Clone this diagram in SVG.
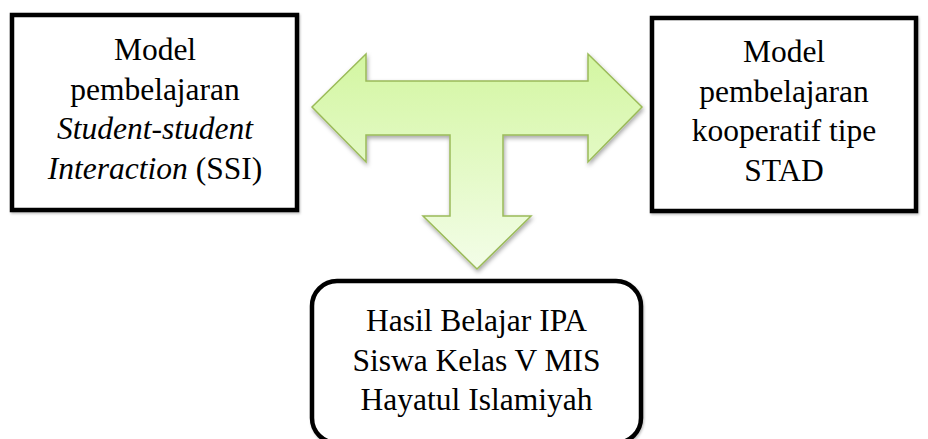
<svg xmlns="http://www.w3.org/2000/svg" width="928" height="439" viewBox="0 0 928 439">
  <defs>
    <linearGradient id="g" x1="0" y1="0" x2="0" y2="1">
      <stop offset="0" stop-color="#d3f6a1"/>
      <stop offset="1" stop-color="#f3fde8"/>
    </linearGradient>
    <filter id="sh" x="-10%" y="-10%" width="130%" height="130%">
      <feDropShadow dx="1" dy="2.5" stdDeviation="2" flood-color="#000" flood-opacity="0.35"/>
    </filter>
    <filter id="bs" x="-5%" y="-5%" width="110%" height="110%">
      <feDropShadow dx="1" dy="1.5" stdDeviation="1" flood-color="#000" flood-opacity="0.25"/>
    </filter>
  </defs>
  <style>
    .box { fill: #ffffff; stroke: #000000; stroke-width: 4.5; }
    text { font-family: 'Liberation Serif', 'DejaVu Serif', serif; font-size: 31.5px; fill: #000000; text-anchor: middle; }
    .i { font-style: italic; }
    .arrow { fill: url(#g); stroke: #9bbb59; stroke-width: 1.5; stroke-linejoin: miter; }
  </style>
  <rect width="928" height="439" fill="#ffffff"/>
  <g id="connectors">
    <path class="arrow" filter="url(#sh)" d="M312,107 L366,54 L366,81 L588,81 L588,54 L642,107 L588,162 L588,135 L503,135 L503,216 L531,216 L477,269 L423,216 L450,216 L450,135 L366,135 L366,162 Z"/>
  </g>
  <g id="node-ssi">
    <rect class="box" filter="url(#bs)" x="12" y="15" width="285" height="195"/>
    <text x="155" y="60">Model</text>
    <text x="155" y="99.5">pembelajaran</text>
    <text x="155" y="139"><tspan class="i">Student-student</tspan></text>
    <text x="155" y="178.5"><tspan class="i">Interaction</tspan> (SSI)</text>
  </g>
  <g id="node-stad">
    <rect class="box" filter="url(#bs)" x="652" y="18" width="264" height="193"/>
    <text x="784" y="62">Model</text>
    <text x="784" y="101.5">pembelajaran</text>
    <text x="784" y="141">kooperatif tipe</text>
    <text x="784" y="180.5">STAD</text>
  </g>
  <g id="node-hasil">
    <rect class="box" filter="url(#bs)" x="312" y="281" width="329" height="162" rx="25" ry="25"/>
    <text x="476.5" y="331">Hasil Belajar IPA</text>
    <text x="476.5" y="370.5">Siswa Kelas V MIS</text>
    <text x="476.5" y="410">Hayatul Islamiyah</text>
  </g>
</svg>
